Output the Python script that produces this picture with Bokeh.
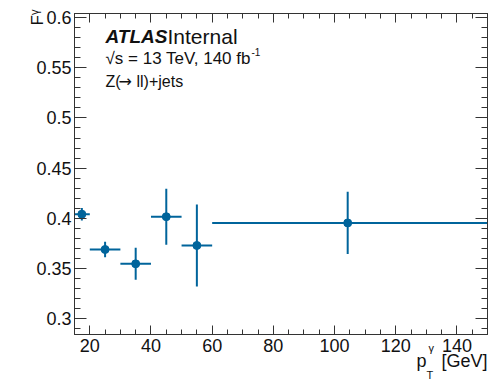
import math
from bokeh.plotting import figure
from bokeh.models import (ColumnDataSource, LinearAxis, SingleIntervalTicker, Label, Range1d,
                          CustomJSTickFormatter)
from bokeh.embed import file_html
from bokeh.resources import INLINE

# ---------------- data ----------------
pt_center = [17.4, 25, 35, 45, 55, 104.3]
bin_lo = [15, 20, 30, 40, 50, 60]
bin_hi = [20, 30, 40, 50, 60, 150]
f_gamma = [0.404, 0.3688, 0.3545, 0.4015, 0.3728, 0.3953]
f_err = [0.0063, 0.0077, 0.016, 0.028, 0.041, 0.031]

X0, X1 = 15, 150
Y0, Y1 = 0.284, 0.6042

COL = "#00649b"
FONT = "Liberation Sans"
NB = "\u00a0"

src = ColumnDataSource(dict(
    x=pt_center, y=f_gamma,
    xl=bin_lo, xh=bin_hi,
    yl=[v - e for v, e in zip(f_gamma, f_err)],
    yh=[v + e for v, e in zip(f_gamma, f_err)],
))

W, H = 496, 379
L, R, T, B = 74, 9, 13, 45

p = figure(width=W, height=H, output_backend="svg", toolbar_location=None,
           x_range=Range1d(X0, X1), y_range=Range1d(Y0, Y1),
           min_border_left=L, min_border_right=R, min_border_top=T, min_border_bottom=B,
           background_fill_color="white", border_fill_color="white")
p.grid.visible = False
p.outline_line_color = "#333333"
p.outline_line_width = 1

fw = W - L - R
fh = H - T - B
def xd(px):
    return X0 + (px - L) * (X1 - X0) / fw
def yd(py):
    return Y0 + (T + fh - py) * (Y1 - Y0) / fh

def style_axis(ax, major_in, minor_in, labels=True):
    ax.axis_line_color = "#333333"
    ax.major_tick_line_color = "#333333"
    ax.minor_tick_line_color = "#333333"
    ax.major_tick_in = major_in
    ax.major_tick_out = 0
    ax.minor_tick_in = minor_in
    ax.minor_tick_out = 0
    ax.major_label_text_font = FONT
    if labels:
        ax.major_label_text_font_size = "18px"
        ax.major_label_text_color = "#111111"
    else:
        ax.formatter = CustomJSTickFormatter(code="return ''")
        ax.major_label_standoff = 0

p.xaxis.ticker = SingleIntervalTicker(interval=20, num_minor_ticks=4)
p.yaxis.ticker = SingleIntervalTicker(interval=0.05, num_minor_ticks=5)
style_axis(p.xaxis[0], 9, 5)
style_axis(p.yaxis[0], 12, 6)
p.xaxis[0].major_label_standoff = 4
p.yaxis[0].major_label_standoff = 3

top = LinearAxis(ticker=SingleIntervalTicker(interval=20, num_minor_ticks=4))
style_axis(top, 9, 5, labels=False)
p.add_layout(top, "above")
right = LinearAxis(ticker=SingleIntervalTicker(interval=0.05, num_minor_ticks=5))
style_axis(right, 12, 6, labels=False)
p.add_layout(right, "right")

# error bars and markers
p.segment(x0="xl", x1="xh", y0="y", y1="y", source=src, line_color=COL, line_width=2)
p.segment(x0="x", x1="x", y0="yl", y1="yh", source=src, line_color=COL, line_width=2)
p.scatter(x="x", y="y", source=src, marker="circle", size=8, fill_color=COL, line_color=COL)

def lab(text, px, py, size, align="left", style="normal", angle=0.0, font=FONT, place="center"):
    p.add_layout(Label(x=xd(px), y=yd(py), text=text, text_font=font,
                       text_font_size=f"{size}px", text_font_style=style,
                       text_align=align, text_baseline="alphabetic", angle=angle,
                       text_color="#111111"), place)

# ATLAS label
lab("ATLAS", 105, 36, 19, style="bold italic")
lab("Internal", 167, 36, 21)
lab("\u221as = 13 TeV, 140 fb", 105, 58, 17)
lab("-1", 251, 51, 10)
lab("Z(", 105, 81, 16)
lab("\u2192", 118, 81, 16, font="DejaVu Sans")
lab("ll)+jets", 136, 81, 16)

# y axis title F^gamma (rotated) -- side panel so it is not clipped
lab("F\u1d5e", 37, 25, 17, angle=math.pi / 2, place="left")

# x axis title p_T^gamma [GeV]
lab("p" + NB * 3 + "[GeV]", 487, 360, 18, align="right", place="below")
lab("T", 426, 374, 11, place="right")
lab("\u03b3", 428, 347, 11, place="above")

open("out.html", "w").write(file_html(p, INLINE))
